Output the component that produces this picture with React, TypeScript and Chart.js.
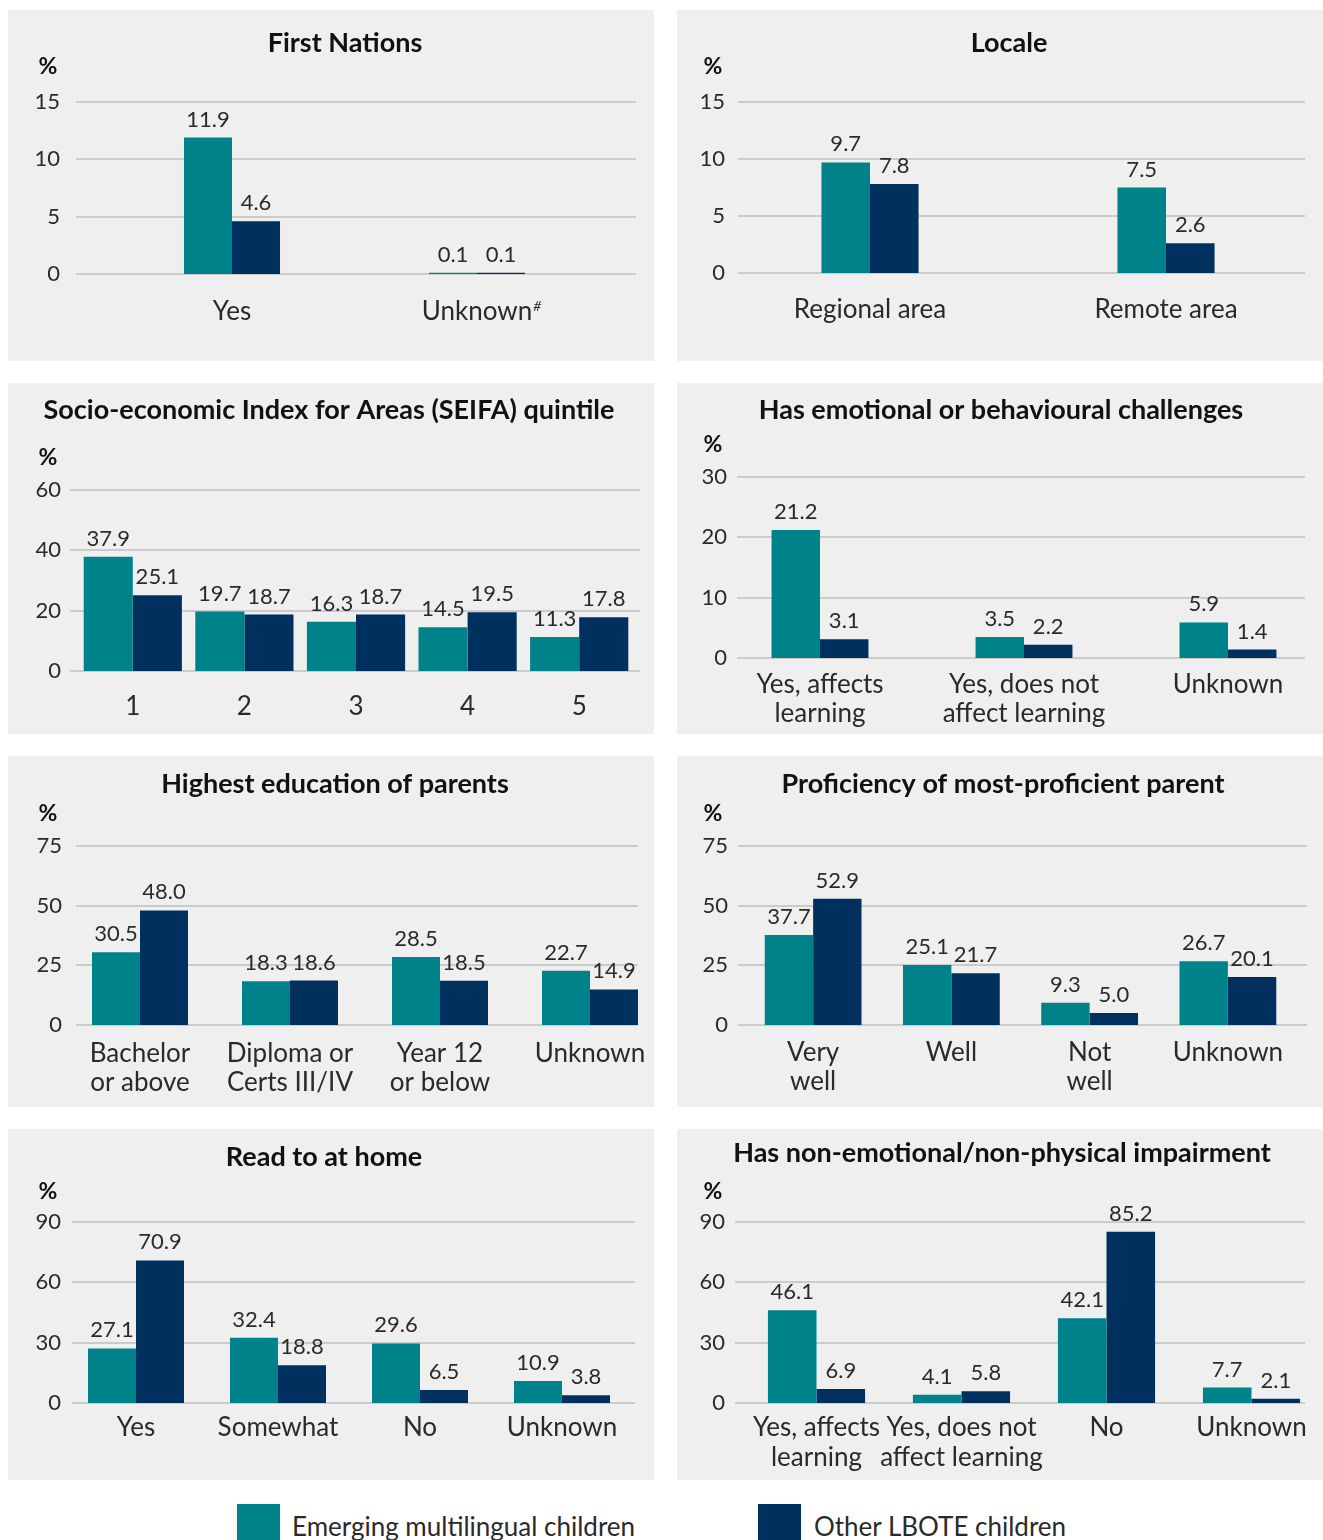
import React, { useEffect, useRef } from 'react';
import { Chart, registerables } from 'chart.js';

Chart.register(...registerables);

const TEAL = '#00828b';
const NAVY = '#00305e';
const GRID = '#cbcbcb';
const TEXT = '#2a2a2a';
const TITLE = '#111111';
const PANEL_BG = '#efefef';
const FONT = 'Lato, "Open Sans", sans-serif';

const SERIES_NAMES = ['Emerging multilingual children', 'Other LBOTE children'];

// ---- Data ----
const firstNationsCategories = ['Yes', 'Unknown'];
const firstNationsEmerging = [11.9, 0.1];
const firstNationsOther = [4.6, 0.1];
const firstNationsTicks = [0, 5, 10, 15];

const localeCategories = ['Regional area', 'Remote area'];
const localeEmerging = [9.7, 7.5];
const localeOther = [7.8, 2.6];
const localeTicks = [0, 5, 10, 15];

const seifaCategories = ['1', '2', '3', '4', '5'];
const seifaEmerging = [37.9, 19.7, 16.3, 14.5, 11.3];
const seifaOther = [25.1, 18.7, 18.7, 19.5, 17.8];
const seifaTicks = [0, 20, 40, 60];

const emotionalCategories = [['Yes, affects', 'learning'], ['Yes, does not', 'affect learning'], ['Unknown']];
const emotionalEmerging = [21.2, 3.5, 5.9];
const emotionalOther = [3.1, 2.2, 1.4];
const emotionalTicks = [0, 10, 20, 30];

const educationCategories = [['Bachelor', 'or above'], ['Diploma or', 'Certs III/IV'], ['Year 12', 'or below'], ['Unknown']];
const educationEmerging = [30.5, 18.3, 28.5, 22.7];
const educationOther = [48.0, 18.6, 18.5, 14.9];
const educationTicks = [0, 25, 50, 75];

const proficiencyCategories = [['Very', 'well'], ['Well'], ['Not', 'well'], ['Unknown']];
const proficiencyEmerging = [37.7, 25.1, 9.3, 26.7];
const proficiencyOther = [52.9, 21.7, 5.0, 20.1];
const proficiencyTicks = [0, 25, 50, 75];

const readCategories = ['Yes', 'Somewhat', 'No', 'Unknown'];
const readEmerging = [27.1, 32.4, 29.6, 10.9];
const readOther = [70.9, 18.8, 6.5, 3.8];
const readTicks = [0, 30, 60, 90];

const impairmentCategories = [['Yes, affects', 'learning'], ['Yes, does not', 'affect learning'], ['No'], ['Unknown']];
const impairmentEmerging = [46.1, 4.1, 42.1, 7.7];
const impairmentOther = [6.9, 5.8, 85.2, 2.1];
const impairmentTicks = [0, 30, 60, 90];

// ---- Panel geometry ----
const PANEL_W = 646;
const PANEL_H = 351;
const CANVAS_W = 700;
const CAT_FONT = 26;
const TICK_FONT = 22;
const VALUE_FONT = 22;
const TITLE_FONT = 27;

type Layout = {
  left: number; top: number;
  titleX: number; titleY: number;
  pctX: number; pctY: number;
  plotTop: number; zeroY: number;
  catL: number; catR: number;
  gridL: number; gridR: number;
  tickRight: number; labelY: number;
  barFrac: number; lineH: number;
};

type PanelSpec = {
  title: string;
  categories: (string | string[])[];
  emerging: number[];
  other: number[];
  ticks: number[];
  layout: Layout;
  superscript?: { index: number; base: string; mark: string };
};

const panels: PanelSpec[] = [
  {
    title: 'First Nations',
    categories: firstNationsCategories, emerging: firstNationsEmerging, other: firstNationsOther, ticks: firstNationsTicks,
    layout: { left: 8, top: 10, titleX: 337, titleY: 33, pctX: 40, pctY: 57, plotTop: 92, zeroY: 264, catL: 101.5, catR: 591.5, gridL: 68, gridR: 628, tickRight: 52, labelY: 302, barFrac: 0.392, lineH: 29 },
    superscript: { index: 1, base: 'Unknown', mark: '#' },
  },
  {
    title: 'Locale',
    categories: localeCategories, emerging: localeEmerging, other: localeOther, ticks: localeTicks,
    layout: { left: 677, top: 10, titleX: 332, titleY: 33, pctX: 36, pctY: 57, plotTop: 92, zeroY: 263, catL: 45, catR: 637, gridL: 61, gridR: 628, tickRight: 48, labelY: 300, barFrac: 0.328, lineH: 29 },
  },
  {
    title: 'Socio-economic Index for Areas (SEIFA) quintile',
    categories: seifaCategories, emerging: seifaEmerging, other: seifaOther, ticks: seifaTicks,
    layout: { left: 8, top: 383, titleX: 321, titleY: 27, pctX: 40, pctY: 75, plotTop: 107, zeroY: 288, catL: 69, catR: 627, gridL: 62, gridR: 632, tickRight: 53, labelY: 324, barFrac: 0.88, lineH: 29 },
  },
  {
    title: 'Has emotional or behavioural challenges',
    categories: emotionalCategories, emerging: emotionalEmerging, other: emotionalOther, ticks: emotionalTicks,
    layout: { left: 677, top: 383, titleX: 324, titleY: 27, pctX: 36, pctY: 62, plotTop: 94, zeroY: 275, catL: 41, catR: 653, gridL: 60, gridR: 628, tickRight: 50, labelY: 302, barFrac: 0.475, lineH: 29 },
  },
  {
    title: 'Highest education of parents',
    categories: educationCategories, emerging: educationEmerging, other: educationOther, ticks: educationTicks,
    layout: { left: 8, top: 756, titleX: 327, titleY: 28, pctX: 40, pctY: 58, plotTop: 90, zeroY: 269, catL: 57, catR: 657, gridL: 68, gridR: 630, tickRight: 54, labelY: 298, barFrac: 0.64, lineH: 29 },
  },
  {
    title: 'Proficiency of most-proficient parent',
    categories: proficiencyCategories, emerging: proficiencyEmerging, other: proficiencyOther, ticks: proficiencyTicks,
    layout: { left: 677, top: 756, titleX: 326, titleY: 28, pctX: 36, pctY: 58, plotTop: 90, zeroY: 269, catL: 67, catR: 620, gridL: 61, gridR: 630, tickRight: 51, labelY: 297, barFrac: 0.70, lineH: 29 },
  },
  {
    title: 'Read to at home',
    categories: readCategories, emerging: readEmerging, other: readOther, ticks: readTicks,
    layout: { left: 8, top: 1129, titleX: 316, titleY: 28, pctX: 40, pctY: 63, plotTop: 93, zeroY: 274, catL: 57, catR: 625, gridL: 64, gridR: 627, tickRight: 53, labelY: 299, barFrac: 0.676, lineH: 29 },
  },
  {
    title: 'Has non-emotional/non-physical impairment',
    categories: impairmentCategories, emerging: impairmentEmerging, other: impairmentOther, ticks: impairmentTicks,
    layout: { left: 677, top: 1129, titleX: 325, titleY: 24, pctX: 36, pctY: 63, plotTop: 93, zeroY: 274, catL: 67, catR: 647, gridL: 58, gridR: 628, tickRight: 48, labelY: 299, barFrac: 0.67, lineH: 30 },
  },
];

// Grid lines, y tick labels, value labels, title and unit marker
function makeDecorPlugin(spec: PanelSpec) {
  const L = spec.layout;
  return {
    id: 'panelDecor',
    beforeDatasetsDraw(chart: any) {
      const { ctx } = chart;
      const y = chart.scales.y;
      ctx.save();
      ctx.strokeStyle = GRID;
      ctx.lineWidth = 2;
      for (const v of spec.ticks) {
        const py = Math.round(y.getPixelForValue(v));
        ctx.beginPath();
        ctx.moveTo(L.gridL, py);
        ctx.lineTo(L.gridR, py);
        ctx.stroke();
      }
      ctx.fillStyle = TEXT;
      ctx.font = `${TICK_FONT}px ${FONT}`;
      ctx.textAlign = 'right';
      ctx.textBaseline = 'middle';
      for (const v of spec.ticks) {
        ctx.fillText(String(v), L.tickRight, y.getPixelForValue(v));
      }
      ctx.restore();
    },
    afterDatasetsDraw(chart: any) {
      const { ctx } = chart;
      ctx.save();
      ctx.fillStyle = TEXT;
      ctx.font = `${VALUE_FONT}px ${FONT}`;
      ctx.textAlign = 'center';
      ctx.textBaseline = 'alphabetic';
      chart.data.datasets.forEach((ds: any, i: number) => {
        const meta = chart.getDatasetMeta(i);
        meta.data.forEach((bar: any, j: number) => {
          ctx.fillText(Number(ds.data[j]).toFixed(1), bar.x, bar.y - 11);
        });
      });
      ctx.restore();
    },
    afterDraw(chart: any) {
      const { ctx } = chart;
      ctx.save();
      ctx.fillStyle = TITLE;
      ctx.textAlign = 'center';
      ctx.textBaseline = 'middle';
      ctx.font = `bold ${TITLE_FONT}px ${FONT}`;
      ctx.fillText(spec.title, L.titleX, L.titleY);
      ctx.font = `bold 23px ${FONT}`;
      ctx.fillText('%', L.pctX, L.pctY);
      if (spec.superscript) {
        const sx = chart.scales.x.getPixelForValue(spec.superscript.index);
        ctx.font = `${CAT_FONT}px ${FONT}`;
        const w = ctx.measureText(spec.superscript.base).width;
        ctx.font = `italic 14px ${FONT}`;
        ctx.fillStyle = TEXT;
        ctx.textAlign = 'left';
        ctx.fillText(spec.superscript.mark, sx + w / 2 + 1, L.labelY - 6);
      }
      ctx.restore();
    },
  };
}

function Panel({ spec }: { spec: PanelSpec }) {
  const ref = useRef<HTMLCanvasElement | null>(null);
  useEffect(() => {
    if (!ref.current) return;
    const L = spec.layout;
    const chart = new Chart(ref.current, {
      type: 'bar',
      data: {
        labels: spec.categories as any,
        datasets: [
          { label: SERIES_NAMES[0], data: spec.emerging, backgroundColor: TEAL, borderWidth: 0, categoryPercentage: L.barFrac, barPercentage: 1 },
          { label: SERIES_NAMES[1], data: spec.other, backgroundColor: NAVY, borderWidth: 0, categoryPercentage: L.barFrac, barPercentage: 1 },
        ],
      },
      options: {
        responsive: false,
        animation: false,
        devicePixelRatio: 1,
        layout: {
          autoPadding: false,
          padding: { left: L.catL, right: CANVAS_W - L.catR, top: L.plotTop, bottom: 0 },
        },
        plugins: {
          legend: { display: false },
          tooltip: { enabled: false },
          title: { display: false },
        },
        scales: {
          x: {
            grid: { display: false, drawTicks: false, tickLength: 0 },
            border: { display: false },
            ticks: {
              color: TEXT,
              font: { family: FONT, size: CAT_FONT, lineHeight: L.lineH / CAT_FONT },
              padding: L.labelY - L.zeroY - L.lineH / 2,
              maxRotation: 0,
              minRotation: 0,
              autoSkip: false,
            },
            afterFit(scale: any) {
              scale.height = PANEL_H - L.zeroY;
            },
          },
          y: {
            min: 0,
            max: spec.ticks[spec.ticks.length - 1],
            grid: { display: false, drawTicks: false, tickLength: 0 },
            border: { display: false },
            ticks: { display: false },
            afterFit(scale: any) {
              scale.width = 0;
            },
          },
        },
      } as any,
      plugins: [makeDecorPlugin(spec)],
    });
    return () => chart.destroy();
  }, [spec]);

  const L = spec.layout;
  return (
    <div
      style={{
        position: 'absolute',
        left: L.left,
        top: L.top,
        width: PANEL_W,
        height: PANEL_H,
        background: PANEL_BG,
        overflow: 'hidden',
      }}
    >
      <canvas ref={ref} width={CANVAS_W} height={PANEL_H} style={{ position: 'absolute', left: 0, top: 0, width: CANVAS_W, height: PANEL_H }} />
    </div>
  );
}

function LegendItem({ color, text, swatchLeft, textLeft }: { color: string; text: string; swatchLeft: number; textLeft: number }) {
  return (
    <>
      <div style={{ position: 'absolute', left: swatchLeft, top: 1504, width: 43, height: 40, background: color }} />
      <div
        style={{
          position: 'absolute',
          left: textLeft,
          top: 1510,
          height: 32,
          lineHeight: '32px',
          fontFamily: FONT,
          fontSize: 26,
          color: TEXT,
          whiteSpace: 'nowrap',
        }}
      >
        {text}
      </div>
    </>
  );
}

export default function App() {
  return (
    <div style={{ position: 'absolute', left: 0, top: 0, width: 1323, height: 1540, overflow: 'hidden', background: '#ffffff' }}>
      {panels.map((p) => (
        <Panel key={p.title} spec={p} />
      ))}
      <LegendItem color={TEAL} text={SERIES_NAMES[0]} swatchLeft={237} textLeft={292} />
      <LegendItem color={NAVY} text={SERIES_NAMES[1]} swatchLeft={758} textLeft={814} />
    </div>
  );
}
